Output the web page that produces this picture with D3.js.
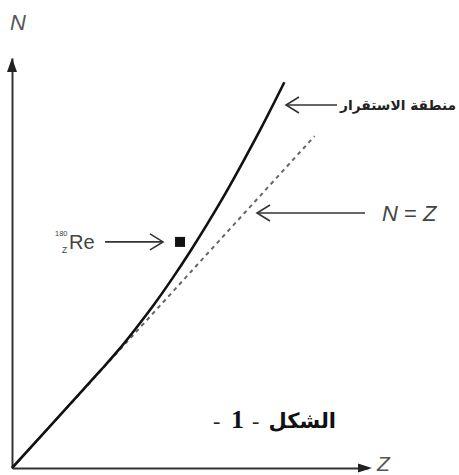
<!DOCTYPE html>
<html><head><meta charset="utf-8">
<script src="https://cdn.jsdelivr.net/npm/d3@7"></script>
<style>body{margin:0;background:#fff}svg{display:block}</style>
</head><body>
<svg id="c" width="459" height="475"></svg>
<script>
// Data
const curveZ = [0, 10, 20, 25, 30, 35, 40, 45, 50, 55, 60, 65, 70, 76.5];
const curveN = [0, 10, 20.1, 25.1, 30.3, 36, 42, 48.5, 55.4, 62.7, 70.4, 78.6, 87.1, 98.8];
const lineZ = [0, 85];           // N = Z reference line
const reZ = [47.2], reN = [57.9]; // 180 Re nucleus
const axisLabels = ["N", "Z"];
const stabilityLabel = "منطقة الاستقرار";
const lineLabel = ["N", " = ", "Z"];
const figLabel = "الشكل";

const svg = d3.select("#c");
const x = d3.scaleLinear().domain([0, 100]).range([12, 368]);
const y = d3.scaleLinear().domain([0, 105]).range([468, 58]);

// Axes (no ticks)
svg.append("g").attr("transform", `translate(0,${y(0)})`)
  .call(d3.axisBottom(x).ticks(0).tickSizeOuter(0));
svg.append("g").attr("transform", `translate(${x(0)},0)`)
  .call(d3.axisLeft(y).ticks(0).tickSizeOuter(0));
svg.selectAll(".domain").attr("stroke", "#333").attr("stroke-width", 2);
// arrowheads
svg.append("path").attr("d", `M${x(100)-10},${y(0)-4.5}L${x(100)+4},${y(0)}L${x(100)-10},${y(0)+4.5}Z`).attr("fill", "#222");
svg.append("path").attr("d", `M${x(0)-5},${y(105)+14}L${x(0)},${y(105)}L${x(0)+5},${y(105)+14}Z`).attr("fill", "#222");

// axis labels
svg.append("text").attr("x", 10).attr("y", 30).text(axisLabels[0])
  .attr("font-family", "Liberation Sans, Arial, sans-serif").attr("font-style", "italic")
  .attr("font-size", 22).attr("fill", "#555");
svg.append("text").attr("x", x(100) + 9).attr("y", y(0) + 3).text(axisLabels[1])
  .attr("font-family", "Liberation Sans, Arial, sans-serif").attr("font-style", "italic")
  .attr("font-size", 21).attr("fill", "#555");

// N = Z dashed line
svg.append("path").datum(lineZ)
  .attr("d", d3.line().x(d => x(d)).y(d => y(d)))
  .attr("stroke", "#666").attr("stroke-width", 2).attr("stroke-dasharray", "4,4").attr("fill", "none");

// stability curve
const pts = curveZ.map((z, i) => [z, curveN[i]]);
svg.append("path").datum(pts)
  .attr("d", d3.line().x(d => x(d[0])).y(d => y(d[1])).curve(d3.curveMonotoneX))
  .attr("stroke", "#111").attr("stroke-width", 2.6).attr("fill", "none");

// Re marker
svg.selectAll("rect.re").data(reZ).join("rect").attr("class", "re")
  .attr("x", (d) => x(d) - 5).attr("y", (d, i) => y(reN[i]) - 5)
  .attr("width", 10).attr("height", 10).attr("fill", "#111");

function arrow(x1, x2, yy) { // tip at x2 (open chevron)
  const dir = Math.sign(x2 - x1);
  svg.append("line").attr("x1", x1).attr("x2", x2).attr("y1", yy).attr("y2", yy)
    .attr("stroke", "#333").attr("stroke-width", 1.6);
  svg.append("path").attr("d", `M${x2 - dir*13},${yy-8}L${x2},${yy}L${x2 - dir*13},${yy+8}`)
    .attr("stroke", "#333").attr("stroke-width", 1.6).attr("fill", "none");
}
// Re arrow and label
const reY = y(reN[0]);
arrow(x(reZ[0]) - 75, x(reZ[0]) - 17, reY);
const ff = "Liberation Sans, Arial, sans-serif";
svg.append("text").attr("x", 55).attr("y", reY - 6).text("180")
  .attr("font-family", ff).attr("font-size", 7.5).attr("fill", "#444");
svg.append("text").attr("x", 62).attr("y", reY + 11).text("Z")
  .attr("font-family", ff).attr("font-size", 8.5).attr("fill", "#444");
svg.append("text").attr("x", 69).attr("y", reY + 7).text("Re")
  .attr("font-family", ff).attr("font-size", 20).attr("fill", "#444");

// stability arrow & label
arrow(337, 286, 105);
svg.append("text").attr("x", 340).attr("y", 110).text(stabilityLabel)
  .attr("font-family", "DejaVu Sans, sans-serif").attr("font-weight", "bold")
  .attr("font-size", 13.8).attr("fill", "#222");

// N = Z arrow & label
arrow(365, 257, 213);
const nz = svg.append("text").attr("x", 382).attr("y", 221)
  .attr("font-family", ff).attr("font-size", 22).attr("fill", "#444");
nz.append("tspan").text(lineLabel[0]).attr("font-style", "italic");
nz.append("tspan").text(lineLabel[1]);
nz.append("tspan").text(lineLabel[2]).attr("font-style", "italic");

// figure label
const sf = "Liberation Serif, serif";
svg.append("text").attr("x", 213).attr("y", 428).text("-")
  .attr("font-family", sf).attr("font-size", 22).attr("fill", "#222");
svg.append("text").attr("x", 231).attr("y", 428).text("1")
  .attr("font-family", sf).attr("font-weight", "bold").attr("font-size", 26).attr("fill", "#111");
svg.append("text").attr("x", 252).attr("y", 428).text("-")
  .attr("font-family", sf).attr("font-size", 22).attr("fill", "#222");
svg.append("text").attr("x", 336).attr("y", 428).attr("text-anchor", "end").text(figLabel)
  .attr("font-family", "DejaVu Sans, sans-serif").attr("font-weight", "bold").attr("font-size", 21).attr("fill", "#111");
</script>
</body></html>
